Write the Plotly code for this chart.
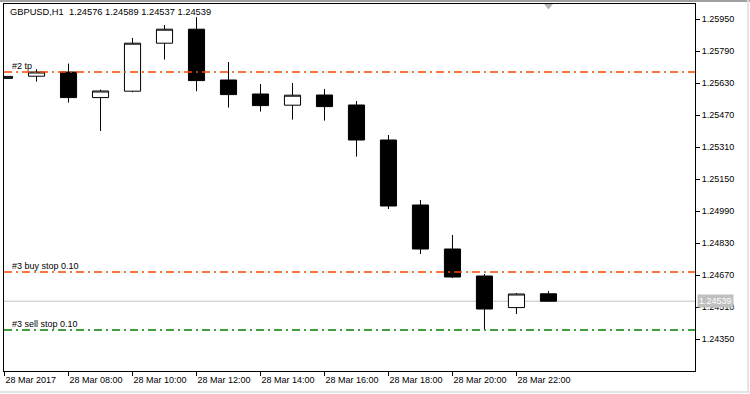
import pandas as pd
import plotly.graph_objects as go

# ---- data ----
times = pd.date_range("2017-03-28 06:00", periods=18, freq="h")
opens  = [1.25653, 1.25664, 1.25685, 1.25557, 1.25589, 1.25829, 1.25899, 1.25645, 1.25575,
          1.25519, 1.25570, 1.25520, 1.25345, 1.25020, 1.24800, 1.24665, 1.24507, 1.24576]
highs  = [1.25663, 1.25699, 1.25727, 1.25597, 1.25855, 1.25920, 1.25959, 1.25735, 1.25625,
          1.25630, 1.25600, 1.25540, 1.25370, 1.25045, 1.24870, 1.24675, 1.24580, 1.24589]
lows   = [1.25652, 1.25637, 1.25532, 1.25390, 1.25584, 1.25747, 1.25589, 1.25507, 1.25487,
          1.25447, 1.25442, 1.25262, 1.25000, 1.24775, 1.24655, 1.24400, 1.24475, 1.24537]
closes = [1.25663, 1.25685, 1.25557, 1.25590, 1.25829, 1.25899, 1.25642, 1.25572, 1.25517,
          1.25569, 1.25512, 1.25345, 1.25015, 1.24800, 1.24660, 1.24500, 1.24575, 1.24539]

ytick_vals = [1.24350, 1.24510, 1.24670, 1.24830, 1.24990, 1.25150, 1.25310,
              1.25470, 1.25630, 1.25790, 1.25950]
ytick_text = [f"{v:.5f}" for v in ytick_vals]

xtick_vals = pd.date_range("2017-03-28 06:00", periods=9, freq="2h")
xtick_text = ["28 Mar 2017", "28 Mar 08:00", "28 Mar 10:00", "28 Mar 12:00", "28 Mar 14:00",
              "28 Mar 16:00", "28 Mar 18:00", "28 Mar 20:00", "28 Mar 22:00"]

level_names = ["#2 tp", "#3 buy stop 0.10", "#3 sell stop 0.10"]
level_prices = [1.25685, 1.24685, 1.24395]
level_colors = ["#FF4500", "#FF4500", "#008000"]

bid_price = 1.24539
header = "GBPUSD,H1  1.24576 1.24589 1.24537 1.24539"

FONT = "Liberation Sans"

fig = go.Figure()
fig.add_trace(go.Candlestick(
    x=times, open=opens, high=highs, low=lows, close=closes,
    increasing=dict(line=dict(color="black", width=1), fillcolor="white"),
    decreasing=dict(line=dict(color="black", width=1), fillcolor="black"),
    whiskerwidth=0, hoverinfo="skip", showlegend=False,
))

x0 = pd.Timestamp("2017-03-28 06:00") - pd.Timedelta(minutes=1)
x1 = pd.Timestamp("2017-03-28 06:00") + pd.Timedelta(hours=21.58)

shapes = []
annotations = []
# bid line
shapes.append(dict(type="line", xref="paper", x0=0, x1=1, yref="y", y0=bid_price, y1=bid_price,
                   line=dict(color="#C0C0C0", width=1), layer="below"))
for name, p, c in zip(level_names, level_prices, level_colors):
    shapes.append(dict(type="line", xref="paper", x0=0, x1=1, yref="y", y0=p, y1=p,
                       line=dict(color=c, width=1.5, dash="8px,4px,2px,4px")))
    annotations.append(dict(xref="paper", x=0.009, yref="y", y=p, text=name, showarrow=False,
                            xanchor="left", yanchor="bottom", yshift=-1,
                            font=dict(family=FONT, size=9, color="black")))

# outer window frame
shapes.append(dict(type="line", xref="paper", yref="paper", x0=-0.01, x1=1.08, y0=1.0082, y1=1.0082,
                   line=dict(color="#A0A0A0", width=2)))
shapes.append(dict(type="line", xref="paper", yref="paper", x0=1.0767, x1=1.0767, y0=-0.06, y1=1.01,
                   line=dict(color="#E4E4E4", width=2)))
shapes.append(dict(type="line", xref="paper", yref="paper", x0=-0.01, x1=1.08, y0=-0.0572, y1=-0.0572,
                   line=dict(color="#E4E4E4", width=2)))
# shift marker triangle
shapes.append(dict(type="path", xref="paper", yref="paper",
                   path="M 0.7815,1.0 L 0.7945,1.0 L 0.788,0.985 Z",
                   fillcolor="#B4B4B4", line=dict(width=0)))

annotations.append(dict(xref="paper", x=0.0058, yref="paper", y=0.977, text=header, showarrow=False,
                        xanchor="left", yanchor="middle",
                        font=dict(family=FONT, size=9.3, color="black")))
annotations.append(dict(xref="paper", x=1.0029, yref="y", y=bid_price, text=f"{bid_price:.5f}",
                        showarrow=False, xanchor="left", yanchor="middle", bgcolor="#C0C0C0",
                        borderpad=1, font=dict(family=FONT, size=9, color="white")))

fig.update_layout(
    width=750, height=394,
    margin=dict(l=4, r=55, t=4, b=23),
    paper_bgcolor="white", plot_bgcolor="white",
    boxgap=0.28,
    shapes=shapes, annotations=annotations,
    hovermode=False,
    font=dict(family=FONT, size=9, color="black"),
    xaxis=dict(
        type="date", range=[x0, x1], rangeslider=dict(visible=False),
        tickmode="array", tickvals=xtick_vals, ticktext=xtick_text,
        ticks="outside", ticklen=4, tickcolor="black", tickwidth=1,
        ticklabelposition="outside right",
        showgrid=False, zeroline=False,
        showline=True, linecolor="black", linewidth=1, mirror=True,
        tickfont=dict(family=FONT, size=9, color="black"),
    ),
    yaxis=dict(
        side="right", range=[1.24190, 1.26025],
        tickmode="array", tickvals=ytick_vals, ticktext=ytick_text,
        ticks="outside", ticklen=4, tickcolor="black", tickwidth=1,
        showgrid=False, zeroline=False,
        showline=True, linecolor="black", linewidth=1, mirror=True,
        tickfont=dict(family=FONT, size=9, color="black"),
    ),
)

fig.write_html("out.html")
